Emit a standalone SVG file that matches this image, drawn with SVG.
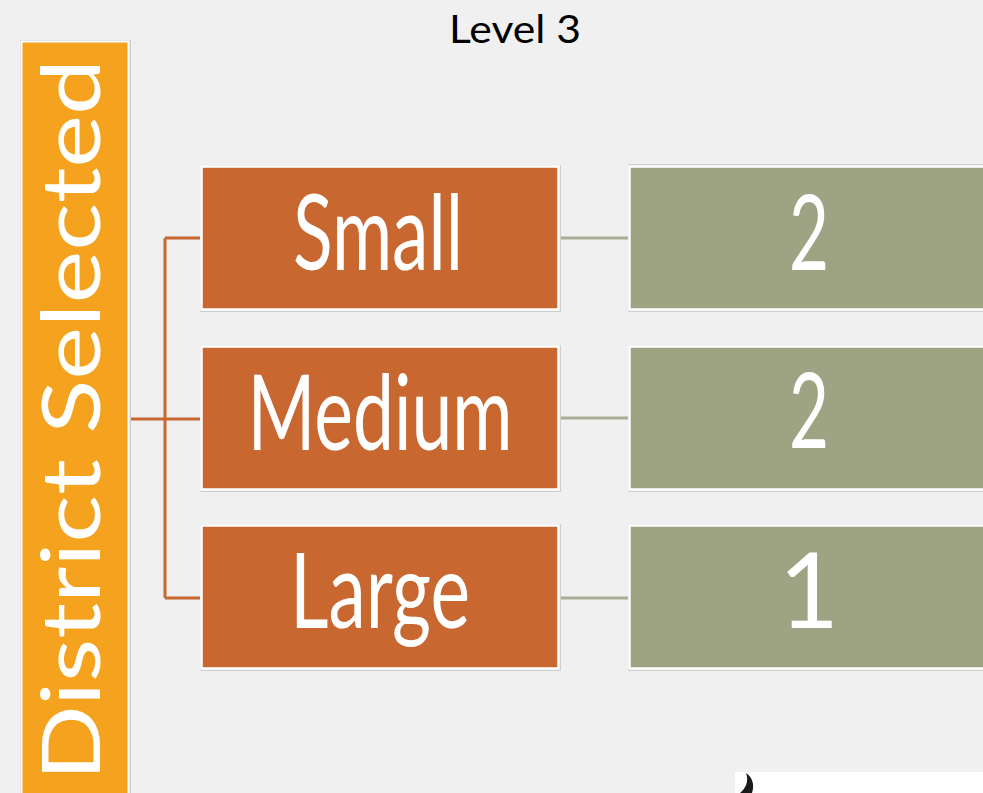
<svg xmlns="http://www.w3.org/2000/svg" width="983" height="793" viewBox="0 0 983 793">
<style>
.frame{fill:#cfcfcf}
.rust{fill:#C8672F;stroke:#ffffff;stroke-width:2.5}
.green{fill:#9DA383;stroke:#ffffff;stroke-width:2.5}
.lbl{font-family:"Gill Sans","Lato","Liberation Sans",sans-serif;fill:#ffffff;text-anchor:middle}
.oc{stroke:#C8672F;stroke-width:3;fill:none}
.gc{stroke:#A8AE92;stroke-width:3;fill:none}
</style>
<rect width="983" height="793" fill="#F0F0F0"/>
<text x="515" y="43" font-family="Lato,'Liberation Sans',sans-serif" font-size="38" fill="#000" text-anchor="middle" textLength="132" lengthAdjust="spacingAndGlyphs">Level 3</text>
<g id="connectors">
<path class="oc" d="M165 238V598M165 238H201M165 598H201M130 419H201"/>
<path class="gc" d="M559 238H630M559 418H630M559 598H630"/>
</g>
<g id="district">
<rect x="20" y="40" width="111" height="760" class="frame"/>
<rect x="21.5" y="41.5" width="107" height="760" fill="#F5A31F" stroke="#ffffff" stroke-width="2"/>
<text transform="translate(100,781) rotate(-90)" class="lbl" style="text-anchor:start" font-size="82" textLength="722" lengthAdjust="spacingAndGlyphs">District Selected</text>
</g>
<g id="small">
<rect x="200" y="165" width="361" height="147" class="frame"/>
<rect x="201.5" y="166.5" width="357" height="143" class="rust"/>
<text x="378" y="270" class="lbl" font-size="104" textLength="170" lengthAdjust="spacingAndGlyphs">Small</text>
</g>
<g id="medium">
<rect x="200" y="345" width="361" height="147" class="frame"/>
<rect x="201.5" y="346.5" width="357" height="143" class="rust"/>
<text x="380" y="450" class="lbl" font-size="104" textLength="265" lengthAdjust="spacingAndGlyphs">Medium</text>
</g>
<g id="large">
<rect x="200" y="524" width="361" height="147" class="frame"/>
<rect x="201.5" y="525.5" width="357" height="143" class="rust"/>
<text x="380" y="628" class="lbl" font-size="104" textLength="180" lengthAdjust="spacingAndGlyphs">Large</text>
</g>
<g id="v-small">
<rect x="628" y="164" width="360" height="148" class="frame"/>
<rect x="629.5" y="166.5" width="360" height="143" class="green"/>
<text x="809" y="270" class="lbl" font-size="104" textLength="40" lengthAdjust="spacingAndGlyphs">2</text>
</g>
<g id="v-medium">
<rect x="628" y="345" width="360" height="147" class="frame"/>
<rect x="629.5" y="346.5" width="360" height="143" class="green"/>
<text x="809" y="448" class="lbl" font-size="104" textLength="40" lengthAdjust="spacingAndGlyphs">2</text>
</g>
<g id="v-large">
<rect x="628" y="524" width="360" height="147" class="frame"/>
<rect x="629.5" y="525.5" width="360" height="143" class="green"/>
<text x="809" y="628" class="lbl" font-size="104">1</text>
</g>
<g id="corner">
<rect x="735" y="772" width="248" height="21" fill="#ffffff"/>
<path d="M746 773C752 777 755 784 752 793H740C746 788 749 781 746 773Z" fill="#1a1a1a"/>
</g>
</svg>
